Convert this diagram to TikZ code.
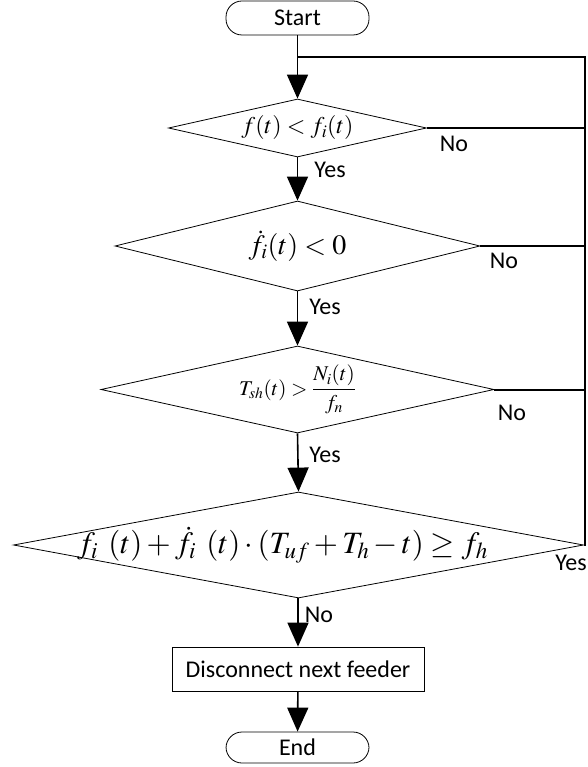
\documentclass[tikz,border=0pt]{standalone}
\usepackage{mathptmx}
\usepackage{fontspec}
\setmainfont{Carlito}
\usetikzlibrary{arrows.meta,shapes.geometric,calc}
\begin{document}
\begin{tikzpicture}[x=1pt,y=-1pt,
  lbl/.style={font=\fontsize{24}{28}\selectfont, inner sep=0pt},
  term/.style={draw, line width=0.8pt, rounded corners=16pt, inner sep=0pt, font=\fontsize{24}{28}\selectfont},
  procbox/.style={draw, line width=0.8pt, inner sep=0pt, font=\fontsize{24}{28}\selectfont},
  dia/.style={draw, diamond, line width=0.8pt, inner sep=0pt},
  flow/.style={line width=1.6pt, -{Triangle[width=21pt,length=24pt]}},
  loopline/.style={line width=2pt}]
\useasboundingbox (0,0) rectangle (587,767);
% nodes
\node[term, minimum width=143pt, minimum height=34pt] (start) at (297.5,18) {Start};
\node[dia, minimum width=258pt, minimum height=58pt] (d1) at (297.5,128) {};
\node[inner sep=0pt, font=\fontsize{24}{28}\selectfont] (t1) at (d1) {$f(t) < f_i(t)$};
\node[dia, minimum width=365pt, minimum height=90pt] (d2) at (297.5,246) {};
\node[inner sep=0pt, font=\fontsize{28}{32}\selectfont] (t2) at (d2) {$\dot{f}_i(t) < 0$};
\node[dia, minimum width=393pt, minimum height=87pt] (d3) at (297.5,389.5) {};
\node[inner sep=0pt, font=\fontsize{21}{25}\selectfont] (t3) at (d3) {$\displaystyle T_{sh}(t) > \frac{N_i(t)}{f_n}$};
\node[dia, minimum width=570pt, minimum height=106pt] (d4) at (298.5,545) {};
\node[inner sep=0pt, font=\fontsize{31}{35}\selectfont] (t4) at ($(d4)+(-16,0)$) {$f_i\;\,(t) + \dot{f}_i\;\,(t)\cdot(T_{uf} + T_h - t) \geq f_h$};
\node[procbox, minimum width=252pt, minimum height=44pt] (box) at (298,669) {Disconnect next feeder};
\node[term, minimum width=143pt, minimum height=31pt] (end) at (297.5,747.5) {End};
\coordinate (rt) at (584.5,57);
\coordinate (jn) at (297.5,57);
% flow
\draw[flow] (start) -- (d1.north);
\draw[flow] (d1.south) -- (d2.north);
\draw[flow] (d2.south) -- (d3.north);
\draw[flow] (d3.south) -- (d4.north);
\draw[flow] (d4.south -| box.north) -- (box.north);
\draw[flow] (box) -- (end);
% loop
\draw[loopline] (d4.east) -- (d4.east -| rt) -- (rt) -- (jn);
\draw[loopline] (d1.east) -- (d1.east -| rt);
\draw[loopline] (d2.east) -- (d2.east -| rt);
\draw[loopline] (d3.east) -- (d3.east -| rt);
% labels
\node[lbl] (n1) at (454,144) {No};
\node[lbl] (n2) at (504,261) {No};
\node[lbl] (n3) at (512,413) {No};
\node[lbl] (y1) at (330,170) {Yes};
\node[lbl] (y2) at (325,307) {Yes};
\node[lbl] (y3) at (325,455) {Yes};
\node[lbl] (y4) at (571,563) {Yes};
\node[lbl] (n4) at (319,615) {No};
\end{tikzpicture}
\end{document}
